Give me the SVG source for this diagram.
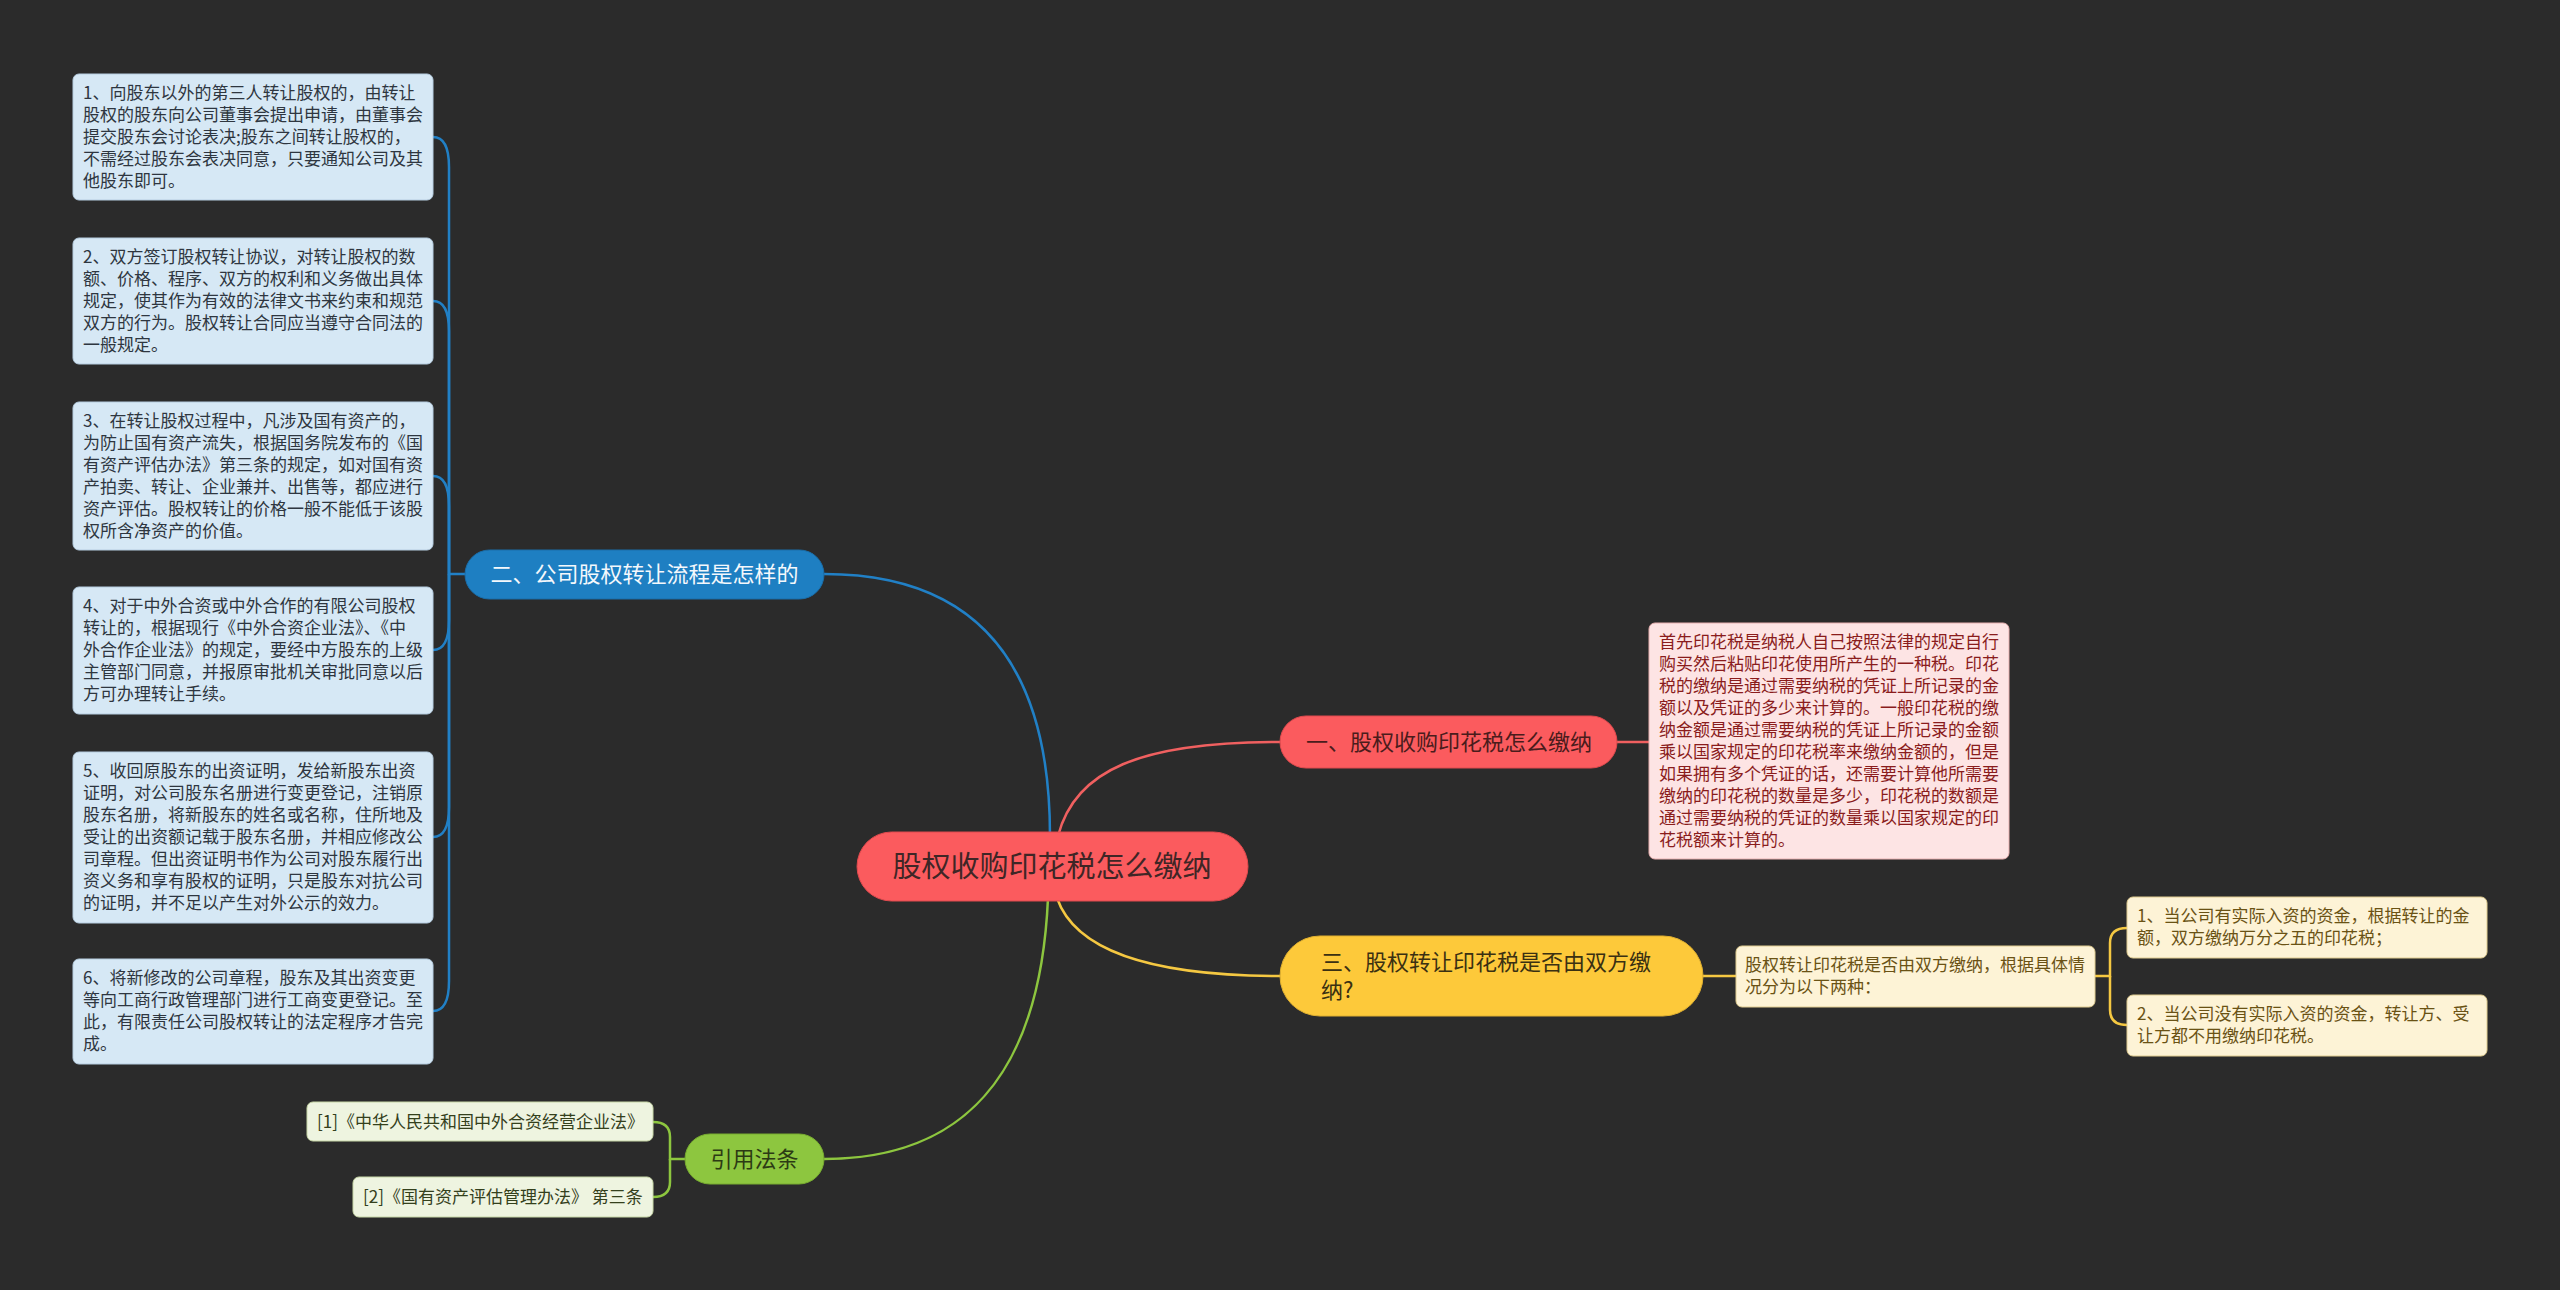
<svg xmlns="http://www.w3.org/2000/svg" width="2560" height="1290" viewBox="0 0 2560 1290">
<style>
text{font-family:"Noto Sans CJK SC","Noto Sans",sans-serif;}
.c{fill:none;stroke-width:2.5;}
.blue{stroke:#2180c6;}
.red{stroke:#f06060;}
.yel{stroke:#f5c842;}
.grn{stroke:#8dc63f;}
.lb{fill:#d6e8f5;stroke:#b6cde0;stroke-width:1;}
.lbt{font-size:17px;fill:#2e3640;}
.pk{fill:#fde4e4;stroke:#e8b0b0;stroke-width:1;}
.pkt{font-size:17px;fill:#8a1c1c;}
.yb{fill:#fdf3d6;stroke:#e0cc90;stroke-width:1;}
.ybt{font-size:17px;fill:#6a5214;}
.gb{fill:#eef4e0;stroke:#c8d8a8;stroke-width:1;}
.gbt{font-size:17px;fill:#34401c;}
.mt{font-size:22px;}
</style>
<rect width="2560" height="1290" fill="#2b2b2b"/>
<g id="connectors">
<path class="c blue" d="M1050,836 C1050,680 990,574 824,574"/>
<path class="c red" d="M1058,836 C1075,770 1140,742 1280,742"/>
<path class="c yel" d="M1057,898 C1075,950 1150,976 1280,976"/>
<path class="c grn" d="M1048,898 C1040,1080 960,1159 824,1159"/>
<path class="c blue" d="M465,574 H449 V167 Q449,137 433,137"/>
<path class="c blue" d="M449,574 V331 Q449,301 433,301"/>
<path class="c blue" d="M449,574 V506 Q449,476 433,476"/>
<path class="c blue" d="M449,574 V620 Q449,650 433,650"/>
<path class="c blue" d="M449,574 V807 Q449,837 433,837"/>
<path class="c blue" d="M449,574 V981 Q449,1011 433,1011"/>
<path class="c red" d="M1616,742 H1649"/>
<path class="c yel" d="M1703,976 H1736"/>
<path class="c yel" d="M2095,976 H2110 V943 Q2110,928 2127,928"/>
<path class="c yel" d="M2110,976 V1010 Q2110,1025 2127,1025"/>
<path class="c grn" d="M685,1159 H670 V1137 Q670,1122 653,1122"/>
<path class="c grn" d="M670,1159 V1182 Q670,1197 653,1197"/>
</g>
<g id="root">
<rect x="857" y="832" width="391" height="69" rx="34.5" fill="#fb5b5e" stroke="#e04a4e" stroke-width="1"/>
<text x="1052" y="877" font-size="29" fill="#3f2626" text-anchor="middle">股权收购印花税怎么缴纳</text>
</g>
<g id="n1">
<rect x="1280" y="716" width="337" height="52" rx="26" fill="#fb5b5e" stroke="#e04a4e" stroke-width="1"/>
<text class="mt" x="1306" y="750" fill="#4a1c1c">一、股权收购印花税怎么缴纳</text>
</g>
<g id="n1-detail">
<rect class="pk" x="1649" y="623" width="360" height="236" rx="6"/>
<text class="pkt">
<tspan x="1659" y="648">首先印花税是纳税人自己按照法律的规定自行</tspan>
<tspan x="1659" y="670">购买然后粘贴印花使用所产生的一种税。印花</tspan>
<tspan x="1659" y="692">税的缴纳是通过需要纳税的凭证上所记录的金</tspan>
<tspan x="1659" y="714">额以及凭证的多少来计算的。一般印花税的缴</tspan>
<tspan x="1659" y="736">纳金额是通过需要纳税的凭证上所记录的金额</tspan>
<tspan x="1659" y="758">乘以国家规定的印花税率来缴纳金额的，但是</tspan>
<tspan x="1659" y="780">如果拥有多个凭证的话，还需要计算他所需要</tspan>
<tspan x="1659" y="802">缴纳的印花税的数量是多少，印花税的数额是</tspan>
<tspan x="1659" y="824">通过需要纳税的凭证的数量乘以国家规定的印</tspan>
<tspan x="1659" y="846">花税额来计算的。</tspan>
</text>
</g>
<g id="n3">
<rect x="1280" y="936" width="423" height="80" rx="40" fill="#fdc93a" stroke="#e0b030" stroke-width="1"/>
<text class="mt" fill="#3a3012"><tspan x="1321" y="970">三、股权转让印花税是否由双方缴</tspan><tspan x="1321" y="998">纳?</tspan></text>
</g>
<g id="n3-detail">
<rect class="yb" x="1736" y="946" width="359" height="61" rx="6"/>
<text class="ybt"><tspan x="1745" y="971">股权转让印花税是否由双方缴纳，根据具体情</tspan><tspan x="1745" y="993">况分为以下两种：</tspan></text>
</g>
<g id="n3-a">
<rect class="yb" x="2127" y="897" width="360" height="61" rx="6"/>
<text class="ybt"><tspan x="2137" y="922">1、当公司有实际入资的资金，根据转让的金</tspan><tspan x="2137" y="944">额，双方缴纳万分之五的印花税；</tspan></text>
</g>
<g id="n3-b">
<rect class="yb" x="2127" y="995" width="360" height="61" rx="6"/>
<text class="ybt"><tspan x="2137" y="1020">2、当公司没有实际入资的资金，转让方、受</tspan><tspan x="2137" y="1042">让方都不用缴纳印花税。</tspan></text>
</g>
<g id="n2">
<rect x="465" y="550" width="359" height="49" rx="24.5" fill="#1e7fc2" stroke="#1a6eaa" stroke-width="1"/>
<text class="mt" x="644.5" y="582" fill="#f4f8fc" text-anchor="middle">二、公司股权转让流程是怎样的</text>
</g>
<g id="n2-1">
<rect class="lb" x="73" y="74" width="360" height="126" rx="6"/>
<text class="lbt">
<tspan x="83" y="99">1、向股东以外的第三人转让股权的，由转让</tspan>
<tspan x="83" y="121">股权的股东向公司董事会提出申请，由董事会</tspan>
<tspan x="83" y="143">提交股东会讨论表决;股东之间转让股权的，</tspan>
<tspan x="83" y="165">不需经过股东会表决同意，只要通知公司及其</tspan>
<tspan x="83" y="187">他股东即可。</tspan>
</text>
</g>
<g id="n2-2">
<rect class="lb" x="73" y="238" width="360" height="126" rx="6"/>
<text class="lbt">
<tspan x="83" y="263">2、双方签订股权转让协议，对转让股权的数</tspan>
<tspan x="83" y="285">额、价格、程序、双方的权利和义务做出具体</tspan>
<tspan x="83" y="307">规定，使其作为有效的法律文书来约束和规范</tspan>
<tspan x="83" y="329">双方的行为。股权转让合同应当遵守合同法的</tspan>
<tspan x="83" y="351">一般规定。</tspan>
</text>
</g>
<g id="n2-3">
<rect class="lb" x="73" y="402" width="360" height="148" rx="6"/>
<text class="lbt">
<tspan x="83" y="427">3、在转让股权过程中，凡涉及国有资产的，</tspan>
<tspan x="83" y="449">为防止国有资产流失，根据国务院发布的《国</tspan>
<tspan x="83" y="471">有资产评估办法》第三条的规定，如对国有资</tspan>
<tspan x="83" y="493">产拍卖、转让、企业兼并、出售等，都应进行</tspan>
<tspan x="83" y="515">资产评估。股权转让的价格一般不能低于该股</tspan>
<tspan x="83" y="537">权所含净资产的价值。</tspan>
</text>
</g>
<g id="n2-4">
<rect class="lb" x="73" y="587" width="360" height="127" rx="6"/>
<text class="lbt">
<tspan x="83" y="612">4、对于中外合资或中外合作的有限公司股权</tspan>
<tspan x="83" y="634">转让的，根据现行《中外合资企业法》、《中</tspan>
<tspan x="83" y="656">外合作企业法》的规定，要经中方股东的上级</tspan>
<tspan x="83" y="678">主管部门同意，并报原审批机关审批同意以后</tspan>
<tspan x="83" y="700">方可办理转让手续。</tspan>
</text>
</g>
<g id="n2-5">
<rect class="lb" x="73" y="752" width="360" height="171" rx="6"/>
<text class="lbt">
<tspan x="83" y="777">5、收回原股东的出资证明，发给新股东出资</tspan>
<tspan x="83" y="799">证明，对公司股东名册进行变更登记，注销原</tspan>
<tspan x="83" y="821">股东名册，将新股东的姓名或名称，住所地及</tspan>
<tspan x="83" y="843">受让的出资额记载于股东名册，并相应修改公</tspan>
<tspan x="83" y="865">司章程。但出资证明书作为公司对股东履行出</tspan>
<tspan x="83" y="887">资义务和享有股权的证明，只是股东对抗公司</tspan>
<tspan x="83" y="909">的证明，并不足以产生对外公示的效力。</tspan>
</text>
</g>
<g id="n2-6">
<rect class="lb" x="73" y="959" width="360" height="105" rx="6"/>
<text class="lbt">
<tspan x="83" y="984">6、将新修改的公司章程，股东及其出资变更</tspan>
<tspan x="83" y="1006">等向工商行政管理部门进行工商变更登记。至</tspan>
<tspan x="83" y="1028">此，有限责任公司股权转让的法定程序才告完</tspan>
<tspan x="83" y="1050">成。</tspan>
</text>
</g>
<g id="n4">
<rect x="685" y="1134" width="139" height="50" rx="25" fill="#8dc63f" stroke="#78ad30" stroke-width="1"/>
<text class="mt" x="754.5" y="1167" fill="#2c3a14" text-anchor="middle">引用法条</text>
</g>
<g id="n4-1">
<rect class="gb" x="307" y="1102" width="346" height="39" rx="6"/>
<text class="gbt" x="317" y="1128">[1]《中华人民共和国中外合资经营企业法》</text>
</g>
<g id="n4-2">
<rect class="gb" x="353" y="1177" width="300" height="40" rx="6"/>
<text class="gbt" x="363" y="1203">[2]《国有资产评估管理办法》 第三条</text>
</g>
</svg>
